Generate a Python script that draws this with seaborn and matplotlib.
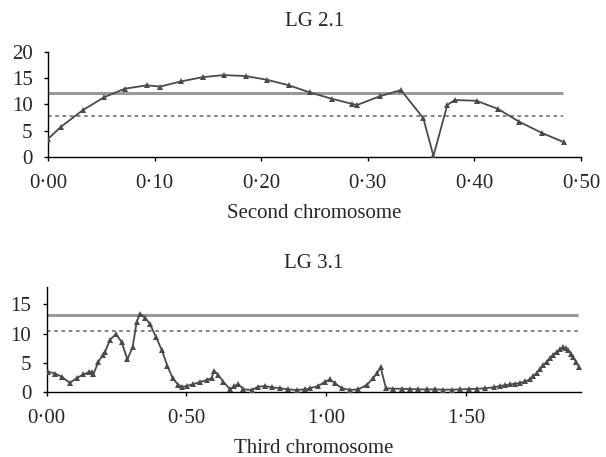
import numpy as np
import pandas as pd
import matplotlib
matplotlib.use("Agg")
import matplotlib.pyplot as plt
import seaborn as sns
from matplotlib.ticker import FuncFormatter

sns.set_style("ticks")
plt.rcParams["font.family"] = ["Liberation Serif", "DejaVu Serif"]
plt.rcParams["font.size"] = 15

# LG 2.1 - second chromosome
pos_lg2 = [0.000, 0.012, 0.033, 0.053, 0.072, 0.093, 0.105, 0.125, 0.145, 0.165,
           0.186, 0.2055, 0.226, 0.2455, 0.266, 0.2855, 0.290, 0.311, 0.331, 0.352,
           0.3615, 0.3745, 0.3815, 0.402, 0.422, 0.442, 0.463, 0.484]
lod_lg2 = [3.4, 5.7, 8.95, 11.4, 13.0, 13.65, 13.4, 14.4, 15.2, 15.6,
           15.4, 14.7, 13.65, 12.3, 11.1, 10.1, 9.9, 11.55, 12.75, 7.4,
           0.2, 9.9, 10.85, 10.7, 9.15, 6.7, 4.6, 2.8]
thr_lg2 = [12.25, 7.75]
thr_end_lg2 = 0.483

# LG 3.1 - third chromosome
pos_lg3 = [0.006, 0.030, 0.054, 0.083, 0.107, 0.131, 0.150, 0.161, 0.167, 0.185,
           0.200, 0.209, 0.227, 0.248, 0.268, 0.289, 0.308, 0.322, 0.334, 0.352,
           0.370, 0.391, 0.412, 0.432, 0.451, 0.471, 0.485, 0.501, 0.525, 0.549,
           0.573, 0.590, 0.599, 0.614, 0.632, 0.656, 0.670, 0.686, 0.704, 0.734,
           0.757, 0.781, 0.805, 0.835, 0.865, 0.895, 0.925, 0.942, 0.972, 0.996,
           1.014, 1.032, 1.056, 1.086, 1.115, 1.145, 1.169, 1.183, 1.195, 1.214,
           1.240, 1.270, 1.300, 1.330, 1.360, 1.390, 1.420, 1.450, 1.480, 1.510,
           1.540, 1.570, 1.600, 1.622, 1.640, 1.658, 1.676, 1.694, 1.712, 1.730,
           1.742, 1.754, 1.766, 1.777, 1.789, 1.801, 1.813, 1.825, 1.837, 1.849,
           1.858, 1.867, 1.876, 1.885, 1.895, 1.906]
lod_lg3 = [3.5, 3.2, 2.65, 1.6, 2.4, 3.05, 3.4, 3.5, 3.05, 5.2,
           6.3, 6.9, 9.0, 9.9, 8.6, 5.6, 7.75, 12.0, 13.4, 12.75,
           11.6, 9.45, 7.2, 4.5, 2.4, 1.25, 0.95, 1.07, 1.4, 1.75,
           2.1, 2.4, 3.7, 2.95, 1.8, 0.5, 1.0, 1.4, 0.5, 0.4,
           0.95, 1.07, 0.85, 0.7, 0.5, 0.4, 0.5, 0.7, 1.07, 1.8,
           2.2, 1.5, 0.7, 0.4, 0.5, 1.25, 2.4, 3.35, 4.25, 0.7,
           0.6, 0.6, 0.55, 0.5, 0.5, 0.5, 0.45, 0.45, 0.5, 0.55,
           0.6, 0.7, 0.85, 1.07, 1.2, 1.35, 1.45, 1.6, 1.85, 2.2,
           2.7, 3.35, 4.0, 4.6, 5.2, 5.8, 6.4, 6.9, 7.3, 7.65,
           7.5, 7.2, 6.6, 5.95, 5.1, 4.25]
thr_lg3 = [13.15, 10.5]
thr_end_lg3 = 1.902

fmt = FuncFormatter(lambda v, p: ("%.2f" % v).replace(".", "\u00b7"))

fig = plt.figure(figsize=(6.06, 4.57), dpi=100)
ax1 = fig.add_axes([0.079, 0.6565, 0.88, 0.2298])
ax2 = fig.add_axes([0.077, 0.1416, 0.8817, 0.2310])

panels = [(ax1, pos_lg2, lod_lg2, thr_lg2, thr_end_lg2, (0, 0.5), (0, 20),
           [0, 0.1, 0.2, 0.3, 0.4, 0.5], [0, 5, 10, 15, 20], "LG 2.1", "Second chromosome", 18.5),
          (ax2, pos_lg3, lod_lg3, thr_lg3, thr_end_lg3, (0, 1.912), (0, 18),
           [0, 0.5, 1.0, 1.5], [0, 5, 10, 15], "LG 3.1", "Third chromosome", 13.5)]

for ax, pos, lod, thr, thr_end, xl, yl, xt, yt, title, xlab, tpad in panels:
    df = pd.DataFrame({"pos": pos, "lod": lod})
    ax.hlines(thr[0], 0, thr_end, color="#9a9a9a", lw=2.2, zorder=1)
    ax.hlines(thr[1], 0, thr_end, color="#7a7a7a", lw=1.3, linestyles=(0, (2, 2)), zorder=1)
    sns.lineplot(data=df, x="pos", y="lod", ax=ax, color="#4a4a4a", lw=1.3,
                 marker="^", markersize=4, markeredgewidth=0, estimator=None, zorder=3)
    ax.set_xlim(*xl)
    ax.set_ylim(*yl)
    ax.set_xticks(xt)
    ax.set_yticks(yt)
    ax.xaxis.set_major_formatter(fmt)
    sns.despine(ax=ax)
    for s in ["left", "bottom"]:
        ax.spines[s].set_color("black")
        ax.spines[s].set_linewidth(1.0)
    ax.tick_params(axis="both", length=3, width=1, color="black", labelsize=15)
    ax.tick_params(axis="x", pad=9)
    ax.tick_params(axis="y", pad=8)
    ax.set_title(title, fontsize=15, pad=tpad)
    ax.set_xlabel(xlab, fontsize=15, labelpad=8)
    ax.set_ylabel("")

plt.savefig("out.png", dpi=100)
